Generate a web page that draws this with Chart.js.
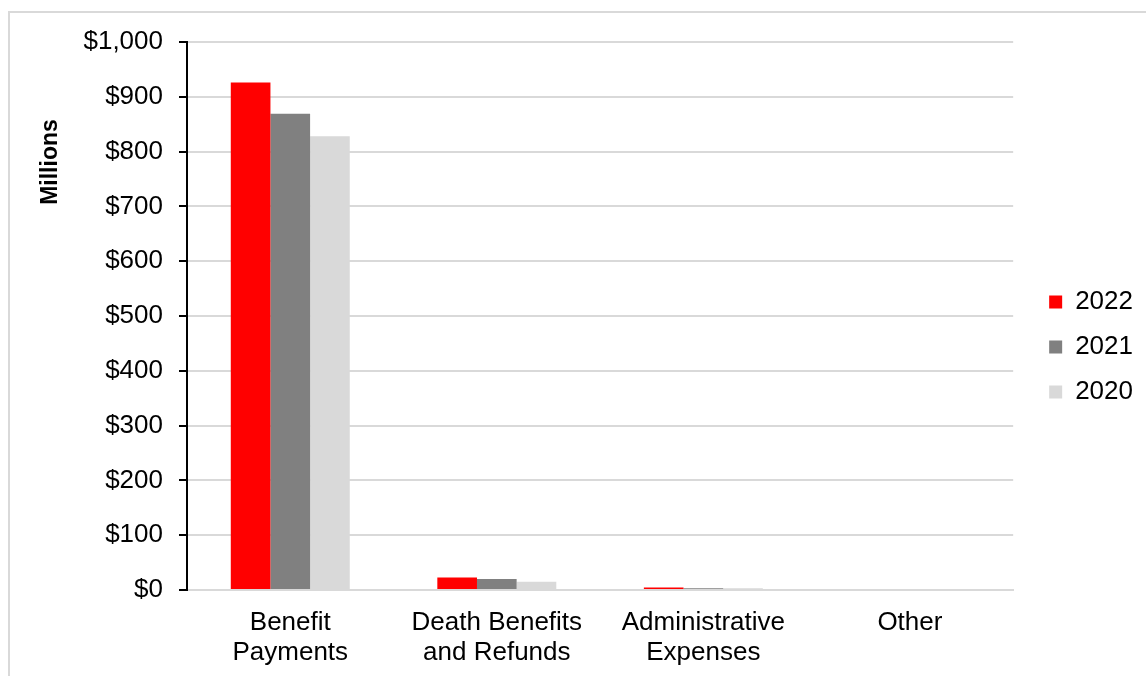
<!DOCTYPE html>
<html>
<head>
<meta charset="utf-8">
<script src="https://cdn.jsdelivr.net/npm/chart.js@4"></script>
<style>
  html, body { margin: 0; padding: 0; background: #ffffff; overflow: hidden; }
  #wrap { position: relative; width: 1146px; height: 676px; }
  #frame { position: absolute; left: 8px; top: 11px; width: 1160px; height: 700px;
           border-left: 2px solid #d9d9d9; border-top: 2px solid #d9d9d9; box-sizing: border-box; }
  #c { position: absolute; left: 0; top: 0; }
</style>
</head>
<body>
<div id="wrap">
  <div id="frame"></div>
  <canvas id="c" width="1146" height="676"></canvas>
</div>
<script>
// ---- data ----
const categories = [["Benefit", "Payments"], ["Death Benefits", "and Refunds"], ["Administrative", "Expenses"], "Other"];
const seriesNames = ["2022", "2021", "2020"];
const values2022 = [926, 23, 4.5, 0];
const values2021 = [869, 20, 3, 0];
const values2020 = [828, 15, 3, 0];
const yTicks = [0, 100, 200, 300, 400, 500, 600, 700, 800, 900, 1000];
const yAxisTitle = "Millions";

const colors = ["#ff0000", "#808080", "#d9d9d9"];
const FONT = "'Liberation Sans', Arial, sans-serif";

Chart.defaults.font.family = FONT;
Chart.defaults.color = "#000000";

const yTitlePlugin = {
  id: "yTitle",
  afterDraw(chart) {
    const ctx = chart.ctx;
    const y = chart.scales.y;
    ctx.save();
    ctx.translate(51, y.getPixelForValue(781));
    ctx.rotate(-Math.PI / 2);
    ctx.font = "bold 23px " + FONT;
    ctx.fillStyle = "#000";
    ctx.textAlign = "center";
    ctx.textBaseline = "middle";
    ctx.fillText(yAxisTitle, 0, 0);
    ctx.restore();
  }
};

const legendShift = {
  id: "legendShift",
  afterLayout(chart) {
    if (chart.legend) {
      chart.legend.left += 17;
      chart.legend.right += 17;
      chart.legend.top -= 12;
      chart.legend.bottom -= 12;
    }
  }
};

new Chart(document.getElementById("c"), {
  type: "bar",
  data: {
    labels: categories,
    datasets: [
      { label: seriesNames[0], data: values2022, backgroundColor: colors[0] },
      { label: seriesNames[1], data: values2021, backgroundColor: colors[1] },
      { label: seriesNames[2], data: values2020, backgroundColor: colors[2] }
    ]
  },
  options: {
    responsive: false,
    animation: false,
    devicePixelRatio: 1,
    layout: { padding: { left: 0, top: 42, right: 20, bottom: 0 } },
    datasets: { bar: { categoryPercentage: 0.576, barPercentage: 1.0 } },
    plugins: {
      legend: {
        position: "right",
        align: "center",
        labels: {
          boxWidth: 13,
          boxHeight: 13,
          padding: 19,
          font: { size: 26, family: FONT },
          color: "#000"
        }
      },
      tooltip: { enabled: false }
    },
    scales: {
      x: {
        grid: { display: false, drawTicks: false },
        border: { display: true, color: "#d9d9d9", width: 2 },
        ticks: { font: { size: 26, family: FONT, lineHeight: 1.15 }, color: "#000", padding: 18, maxRotation: 0, autoSkip: false },
        afterFit(scale) { scale.height = 86; }
      },
      y: {
        min: 0,
        max: 1000,
        afterBuildTicks(scale) { scale.ticks = yTicks.map(v => ({ value: v })); },
        grid: { color: "#d9d9d9", lineWidth: 2, tickColor: "#000", tickLength: 8, tickWidth: 2 },
        border: { display: true, color: "#000", width: 2 },
        ticks: {
          font: { size: 26, family: FONT },
          color: "#000",
          padding: 16,
          callback: v => "$" + v.toLocaleString("en-US")
        },
        afterFit(scale) { scale.width = 187; }
      }
    }
  },
  plugins: [yTitlePlugin, legendShift]
});
</script>
</body>
</html>
